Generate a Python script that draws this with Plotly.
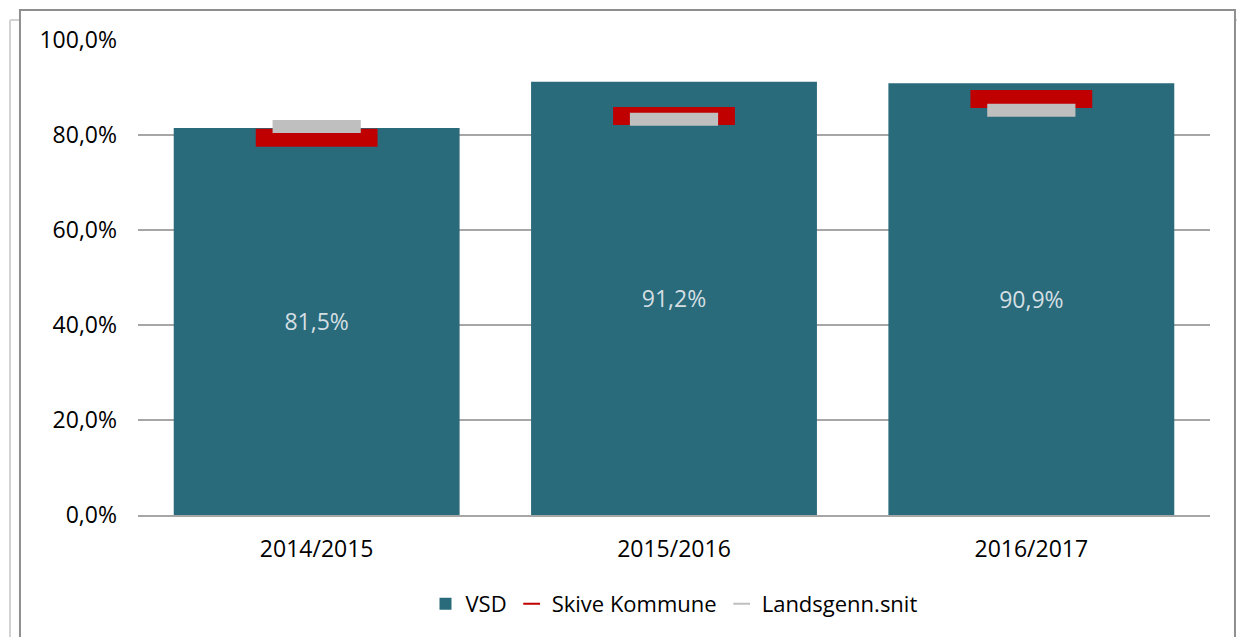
import plotly.graph_objects as go

# Data
years = ["2014/2015", "2015/2016", "2016/2017"]
vsd = [81.5, 91.2, 90.9]
skive = [79.4, 84.0, 87.6]
landsgennemsnit = [81.8, 83.3, 85.2]

TEAL = "#296a7b"
RED = "#c00000"
GREY = "#bfbfbf"
FONT = "Open Sans"

fig = go.Figure()

fig.add_trace(
    go.Bar(
        x=years,
        y=vsd,
        name="VSD",
        marker=dict(color=TEAL, line=dict(width=0)),
        texttemplate="%{y:.1f}%",
        textposition="inside",
        insidetextanchor="middle",
        textfont=dict(color="#d4dfe2", size=23, family=FONT),
    )
)

# Skive Kommune markers (thick red dash)
fig.add_trace(
    go.Scatter(
        x=years,
        y=skive,
        mode="markers",
        name="Skive Kommune",
        marker=dict(symbol="line-ew", size=87, color=RED, line=dict(color=RED, width=18)),
    )
)

# National average markers (grey dash)
fig.add_trace(
    go.Scatter(
        x=years,
        y=landsgennemsnit,
        mode="markers",
        name="Landsgenn.snit",
        marker=dict(symbol="line-ew", size=63, color=GREY, line=dict(color=GREY, width=13)),
    )
)

# Frame around the chart (with faint offset box behind)
shapes = [
    dict(type="line", xref="paper", yref="paper", x0=-0.1194, x1=-0.1194, y0=1.0421, y1=-0.3,
         line=dict(color="#d3d3d3", width=2)),
    dict(type="line", xref="paper", yref="paper", x0=-0.1194, x1=-0.1101, y0=1.0421, y1=1.0421,
         line=dict(color="#d3d3d3", width=2)),
    dict(type="line", xref="paper", yref="paper", x0=1.0243, x1=1.04, y0=1.0421, y1=1.0421,
         line=dict(color="#d3d3d3", width=2)),
    dict(type="rect", xref="paper", yref="paper", x0=-0.1101, x1=1.0233, y0=-0.3, y1=1.0632,
         line=dict(color="#8f8f8f", width=2)),
]

# page body has an 8px margin, so the figure is sized/offset to compensate
fig.update_layout(
    width=1237,
    height=629,
    margin=dict(l=130, r=35, t=32, b=122),
    paper_bgcolor="white",
    plot_bgcolor="white",
    separators=",.",
    bargap=0.2,
    font=dict(family=FONT, size=22, color="#000000"),
    showlegend=True,
    legend=dict(
        orientation="h",
        x=0.5,
        xanchor="center",
        y=-0.187,
        yanchor="middle",
        font=dict(size=22, family=FONT, color="#000000"),
        itemsizing="constant",
        tracegroupgap=0,
    ),
    shapes=shapes,
)

fig.update_yaxes(
    range=[0, 100],
    dtick=20,
    tickformat=".1f",
    ticksuffix="%",
    showgrid=True,
    gridcolor="#a6a6a6",
    gridwidth=1.5,
    zeroline=False,
    showline=False,
    ticks="",
    ticklabelstandoff=20,
    tickfont=dict(size=23, family=FONT, color="#000000"),
)
fig.update_xaxes(
    showline=True,
    linecolor="#a6a6a6",
    linewidth=1.5,
    ticks="",
    ticklabelstandoff=13,
    tickfont=dict(size=23, family=FONT, color="#000000"),
)

fig.write_html("out.html")
